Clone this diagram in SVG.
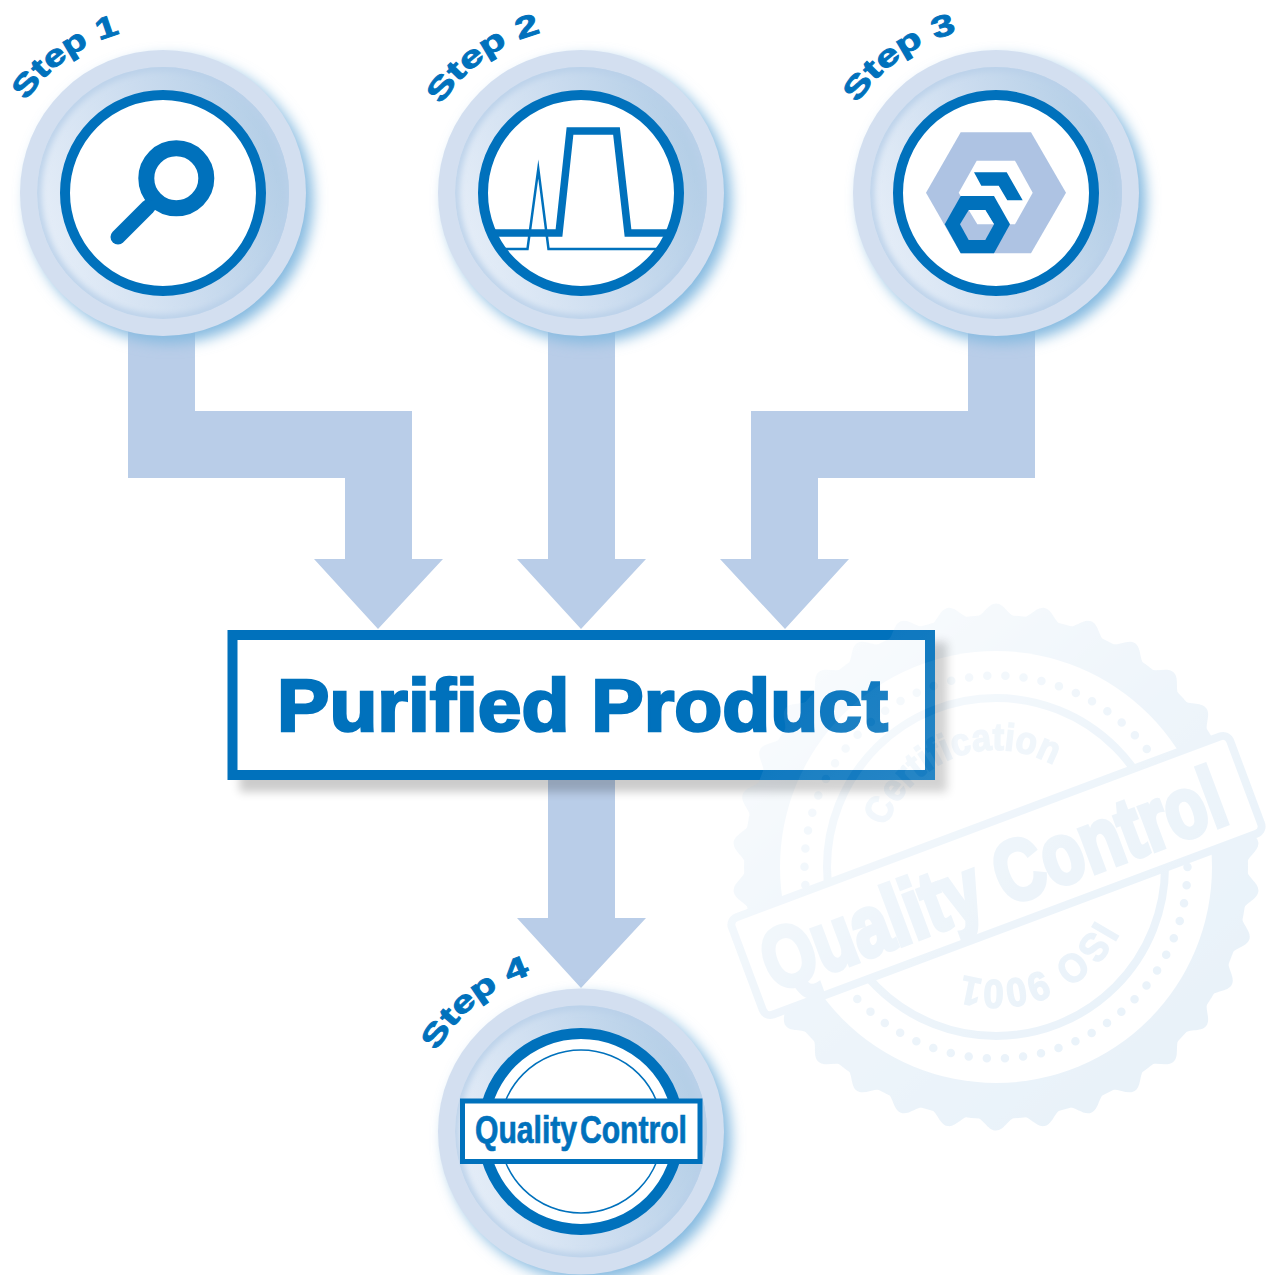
<svg xmlns="http://www.w3.org/2000/svg" xmlns:xlink="http://www.w3.org/1999/xlink" width="1273" height="1275" viewBox="0 0 1273 1275">
<style>
text{font-family:"Liberation Sans",Arial,sans-serif;font-weight:700;fill:#0071BC}
.step{font-size:30px;stroke:#0071BC;stroke-width:.9px}
.arrow{fill:#B9CDE8}
.ink{fill:#0071BC}
.wm{fill:#A6CAE8}
.wmt{fill:#A6CAE8;stroke:#A6CAE8}
</style>
<defs>
<filter id="b6" x="-30%" y="-30%" width="160%" height="160%"><feGaussianBlur stdDeviation="7"/></filter>
<filter id="b3" x="-30%" y="-30%" width="160%" height="160%"><feGaussianBlur stdDeviation="3"/></filter>
<filter id="b5" x="-10%" y="-30%" width="120%" height="160%"><feGaussianBlur stdDeviation="5"/></filter>
<linearGradient id="mid" x1="0.05" y1="0.8" x2="0.98" y2="0.5"><stop offset="0" stop-color="#E6EEF8"/><stop offset="0.55" stop-color="#CBDCEF"/><stop offset="1" stop-color="#B5CFE7"/></linearGradient>
<clipPath id="midClip"><circle r="126"/></clipPath>
<clipPath id="inClip"><circle r="98"/></clipPath>
<path id="arc" d="M-155.05,-56.4A165,165 0 0 1 0,-165"/>
<g id="disc">
<circle r="143" cx="7" cy="7" fill="#85BAE0" filter="url(#b6)"/>
<circle r="143" fill="#D3DFF0"/>
<circle r="126" fill="url(#mid)"/>
<g clip-path="url(#midClip)"><circle r="126" fill="none" stroke="#B9D0E9" stroke-width="8" filter="url(#b3)"/></g>
</g>
<path id="tooth" class="wm" d="M-23.07,-248.9C-13,-249.5 -9,-263.5 0,-263.5C9,-263.5 13,-249.5 23.07,-248.9L0,0Z"/>
<linearGradient id="fadeG" gradientUnits="userSpaceOnUse" x1="780" y1="650" x2="1150" y2="1080"><stop offset="0" stop-color="#101010"/><stop offset="0.5" stop-color="#303030"/><stop offset="1" stop-color="#404040"/></linearGradient>
<mask id="fade" maskUnits="userSpaceOnUse" x="700" y="580" width="573" height="570"><rect x="700" y="580" width="573" height="570" fill="url(#fadeG)"/></mask>
<path id="certArc" d="M886,827A117,117 0 0 1 1056.3,766.7"/>
<path id="isoArc" d="M1095.8,920A113,113 0 0 1 957.4,973.2"/>
</defs>

<g id="connectors">
<path class="arrow" d="M128,330H195V411H412V559H443L378,629L314,559H345V478H128Z"/>
<path class="arrow" d="M548,330H615V559H646L581,629L517,559H548Z"/>
<path class="arrow" d="M1035,330H968V411H751V559H720L785,629L849,559H818V478H1035Z"/>
<path class="arrow" d="M548,775H615V918H646L581,988L517,918H548Z"/>
</g>

<g id="step1" transform="translate(163,193)">
<use href="#disc"/>
<circle r="98" fill="#fff" stroke="#0071BC" stroke-width="10"/>
<circle cx="13.3" cy="-14.7" r="30" fill="none" stroke="#0071BC" stroke-width="16"/>
<path d="M-45,44L-15,14" fill="none" stroke="#0071BC" stroke-width="15" stroke-linecap="round"/>
<text class="step"><textPath href="#arc" startOffset="40" textLength="118" lengthAdjust="spacingAndGlyphs">Step 1</textPath></text>
</g>

<g id="step2" transform="translate(581,193)">
<use href="#disc"/>
<circle r="98" fill="#fff"/>
<g clip-path="url(#inClip)" fill="none" stroke="#0071BC" stroke-miterlimit="30">
<path d="M-105,40H-22L-11,-62H35.5L47,40H105" stroke-width="7.5"/>
<path d="M-105,56H-53.5L-42.7,-24L-32.5,56H105" stroke-width="2.5"/>
</g>
<circle r="98" fill="none" stroke="#0071BC" stroke-width="10"/>
<text class="step"><textPath href="#arc" startOffset="35" textLength="126" lengthAdjust="spacingAndGlyphs">Step 2</textPath></text>
</g>

<g id="step3" transform="translate(996,193)">
<use href="#disc"/>
<circle r="98" fill="#fff" stroke="#0071BC" stroke-width="10"/>
<g transform="translate(-996,-193)">
<polygon points="926,192.7 960.7,132.3 1031,132.3 1066,192.7 1031,253.3 960.7,253.3" fill="#AEC3E3"/>
<polygon points="958.7,192.7 976.7,160.7 1015,160.7 1032.7,192.7 1015,224.3 976.7,224.3" fill="#fff"/>
<polygon class="ink" points="974,172.3 1006.7,172.3 1022.7,200.3 1007.3,200.3 998.7,185.7 981.3,185.7"/>
<polygon class="ink" points="944.7,224.3 960.7,196 994,196 1010,224.3 994,253.3 960.7,253.3"/>
<polygon points="960,224.3 968.7,210 985.3,210 994,224.3 985.3,240 968.7,240" fill="#AEC3E3"/>
<polygon points="968.7,210 985.3,210 994,224.3 977.3,224.3" fill="#fff"/>
</g>
<text class="step"><textPath href="#arc" startOffset="37" textLength="125" lengthAdjust="spacingAndGlyphs">Step 3</textPath></text>
</g>

<g id="step4" transform="translate(581,1131.5)">
<use href="#disc"/>
<circle r="98" fill="#fff" stroke="#0071BC" stroke-width="11"/>
<circle r="81.5" fill="none" stroke="#0071BC" stroke-width="1.5"/>
<rect x="-118.5" y="-30.5" width="237.5" height="60.5" fill="#fff" stroke="#0071BC" stroke-width="5"/>
<text x="-106" y="11.2" font-size="38" word-spacing="-7" stroke="#0071BC" stroke-width=".7" textLength="212" lengthAdjust="spacingAndGlyphs">Quality Control</text>
<text class="step"><textPath href="#arc" startOffset="26" textLength="124" lengthAdjust="spacingAndGlyphs">Step 4</textPath></text>
</g>

<g id="product">
<rect x="239.5" y="642" width="707.5" height="150" fill="#000" opacity="0.2" filter="url(#b5)"/>
<rect x="232.5" y="635" width="697.5" height="140" fill="#fff" stroke="#0071BC" stroke-width="10"/>
<text x="277" y="730.5" font-size="74" textLength="611" lengthAdjust="spacingAndGlyphs" stroke="#0071BC" stroke-width="2.6">Purified Product</text>
</g>

<g id="watermark" mask="url(#fade)">
<g transform="translate(996,867)">
<use href="#tooth"/><use href="#tooth" transform="rotate(10.588)"/><use href="#tooth" transform="rotate(21.176)"/><use href="#tooth" transform="rotate(31.765)"/><use href="#tooth" transform="rotate(42.353)"/><use href="#tooth" transform="rotate(52.941)"/><use href="#tooth" transform="rotate(63.529)"/><use href="#tooth" transform="rotate(74.118)"/><use href="#tooth" transform="rotate(84.706)"/><use href="#tooth" transform="rotate(95.294)"/><use href="#tooth" transform="rotate(105.882)"/><use href="#tooth" transform="rotate(116.471)"/><use href="#tooth" transform="rotate(127.059)"/><use href="#tooth" transform="rotate(137.647)"/><use href="#tooth" transform="rotate(148.235)"/><use href="#tooth" transform="rotate(158.824)"/><use href="#tooth" transform="rotate(169.412)"/><use href="#tooth" transform="rotate(180)"/><use href="#tooth" transform="rotate(190.588)"/><use href="#tooth" transform="rotate(201.176)"/><use href="#tooth" transform="rotate(211.765)"/><use href="#tooth" transform="rotate(222.353)"/><use href="#tooth" transform="rotate(232.941)"/><use href="#tooth" transform="rotate(243.529)"/><use href="#tooth" transform="rotate(254.118)"/><use href="#tooth" transform="rotate(264.706)"/><use href="#tooth" transform="rotate(275.294)"/><use href="#tooth" transform="rotate(285.882)"/><use href="#tooth" transform="rotate(296.471)"/><use href="#tooth" transform="rotate(307.059)"/><use href="#tooth" transform="rotate(317.647)"/><use href="#tooth" transform="rotate(328.235)"/><use href="#tooth" transform="rotate(338.824)"/><use href="#tooth" transform="rotate(349.412)"/>
<circle r="252" class="wm"/>
<circle r="216" fill="#fff"/>
<circle r="191.5" fill="none" stroke="#A6CAE8" stroke-width="8.5" stroke-linecap="round" stroke-dasharray="0 18.23"/>
<circle r="169" fill="none" stroke="#A6CAE8" stroke-width="8"/>
</g>
<text font-size="38" class="wmt" stroke-width="1.5"><textPath href="#certArc" textLength="203" lengthAdjust="spacingAndGlyphs">Certification</textPath></text>
<text font-size="40" class="wmt" stroke-width="1.5"><textPath href="#isoArc" textLength="155" lengthAdjust="spacingAndGlyphs">ISO 9001</textPath></text>
<g transform="translate(996.5,875.5) rotate(-20.5)">
<rect x="-266" y="-52" width="532" height="104" rx="8" fill="#fff" stroke="#A6CAE8" stroke-width="8"/>
<text x="-249" y="32" font-size="86" class="wmt" stroke-width="5" textLength="488" lengthAdjust="spacingAndGlyphs">Quality Control</text>
</g>
</g>
</svg>
